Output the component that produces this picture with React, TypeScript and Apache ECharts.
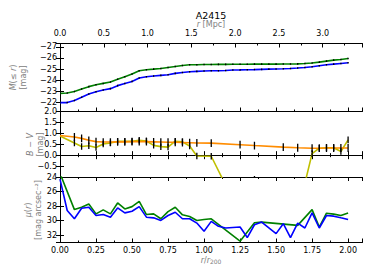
import React, { useEffect, useRef } from "react";
import * as echarts from "echarts";

// r / r200 sampling of the magnitude and surface-brightness profiles
const R = [0.0, 0.05, 0.1, 0.15, 0.2, 0.25, 0.3, 0.35, 0.4, 0.45, 0.5, 0.55, 0.6, 0.65, 0.7, 0.75, 0.8, 0.85, 0.9, 0.95, 1.0,
  1.05, 1.1, 1.15, 1.2, 1.25, 1.3, 1.35, 1.4, 1.45, 1.5, 1.55, 1.6, 1.65, 1.7, 1.75, 1.8, 1.85, 1.9, 1.95, 2.0];

// cumulative absolute magnitude M(<= r)
const M_GREEN = [-22.83, -22.86, -23.0, -23.22, -23.43, -23.6, -23.72, -23.84, -24.1, -24.32, -24.56, -24.86, -24.95, -25.0, -25.06, -25.15, -25.24, -25.33, -25.39, -25.4, -25.42,
  -25.42, -25.43, -25.43, -25.44, -25.44, -25.44, -25.45, -25.45, -25.45, -25.45, -25.46, -25.46, -25.47, -25.5, -25.55, -25.63, -25.72, -25.81, -25.87, -25.96];
const M_BLUE = [-22.0, -22.0, -22.18, -22.47, -22.77, -22.98, -23.13, -23.25, -23.52, -23.72, -23.9, -24.2, -24.32, -24.38, -24.44, -24.5, -24.62, -24.7, -24.77, -24.8, -24.83,
  -24.85, -24.86, -24.88, -24.92, -24.93, -24.95, -24.96, -24.98, -25.0, -25.01, -25.03, -25.06, -25.1, -25.15, -25.21, -25.3, -25.39, -25.45, -25.51, -25.57];
const M_ERR = 0.07;

// B - V colour profile
const R_BV = [0.0, 0.1, 0.15, 0.2, 0.25, 0.3, 0.35, 0.4, 0.45, 0.5, 0.55, 0.6, 0.65, 0.7, 0.75, 0.8, 0.85, 0.9, 0.95,
  1.05, 1.25, 1.35, 1.55, 1.65, 1.75, 1.8, 1.85, 1.9, 1.95, 2.0];
const BV_ORANGE = [0.9, 0.83, 0.77, 0.68, 0.62, 0.6, 0.6, 0.61, 0.61, 0.62, 0.62, 0.62, 0.61, 0.6, 0.59, 0.59, 0.58, 0.57, 0.56,
  0.55, 0.48, 0.44, 0.37, 0.34, 0.32, 0.32, 0.33, 0.33, 0.33, 0.33];
const BV_YELLOW = [0.88, 0.56, 0.4, 0.43, 0.35, 0.51, 0.56, 0.63, 0.63, 0.63, 0.68, 0.65, 0.45, 0.39, 0.37, 0.64, 0.61, 0.42, -0.04,
  -0.05, -2.7, -1.1, -2.2, -2.65, 0.07, 0.32, 0.34, 0.34, 0.17, 0.7];
const BV_ERR_ORANGE = 0.18;
const BV_ERR_YELLOW = 0.15;

// surface brightness mu(r)
const MU_GREEN = [23.5, null, 28.48, 28.16, 27.71, 29.07, 28.52, 29.07, 27.57, 28.39, 28.07, 27.35, 29.16, 29.07, 29.74, 28.75, 28.16, 29.2, 29.43, 29.97, 29.85,
  29.74, null, null, null, 32.82, null, 30.29, 30.2, null, null, null, null, 30.65, null, 28.48, 30.87, 28.97, 29.1, 29.29, 28.93];
const MU_BLUE = [24.3, 28.61, 29.74, 28.3, 28.16, 29.29, 29.16, 29.52, 28.25, 28.93, 28.7, 28.07, 29.52, 29.61, 29.97, 29.29, 28.84, 29.74, 29.74, 30.33, 31.46,
  30.1, 30.78, 31.01, null, 30.87, 32.32, 30.56, 30.2, null, 31.78, 30.42, 32.32, 30.33, 31.01, 28.93, 31.01, 29.29, 29.38, 29.61, 29.83];

const R200_MPC = 1.645;
const X_MAX = 2.1;

const FONT = "DejaVu Sans";
const GRAY = "#808080";

const errRender = (params: any, api: any) => {
  const x = api.value(0);
  const p1 = api.coord([x, api.value(1)]);
  const p2 = api.coord([x, api.value(2)]);
  return {
    type: "line",
    shape: { x1: p1[0], y1: p1[1], x2: p2[0], y2: p2[1] },
    style: { stroke: "#000", lineWidth: 1.3 },
  };
};

const pairs = (xs: number[], ys: (number | null)[]) => xs.map((x, i) => [x, ys[i] === null ? "-" : ys[i]]);
const errs = (xs: number[], ys: number[], e: number, skipZero: boolean) =>
  xs.map((x, i) => [x, ys[i] - e, ys[i] + e]).filter((d) => !(skipZero && d[0] === 0));

const minus = (s: string) => s.replace("-", "\u2212");

export default function App() {
  const ref = useRef<HTMLDivElement>(null);
  useEffect(() => {
    if (!ref.current) return;
    const chart = echarts.init(ref.current, undefined, { renderer: "svg" });
    const L = 60, W = 302.5;
    const grids = [
      { left: L, width: W, top: 43.5, height: 68 },
      { left: L, width: W, top: 111.5, height: 65.5 },
      { left: L, width: W, top: 177, height: 65.5 },
    ];
    const line = { show: true, lineStyle: { color: "#000", width: 1 } };
    const tick = { show: true, inside: true, length: 4, lineStyle: { color: "#000", width: 1 } };
    const minor = { show: true, splitNumber: 2, length: 2, lineStyle: { color: "#000", width: 1 } };
    const lbl = { fontFamily: FONT, fontSize: 8, color: "#000" };
    const rAxis = (gridIndex: number, position: string, labels: boolean) => ({
      type: "value", gridIndex, position, min: 0, max: X_MAX, interval: 0.25,
      axisLine: line, axisTick: tick, minorTick: minor, splitLine: { show: false },
      axisLabel: labels
        ? { show: true, ...lbl, margin: 4, showMaxLabel: false, formatter: (v: number) => v.toFixed(2) }
        : { show: false },
    });
    const yAx = (gridIndex: number, position: string, labels: boolean, extra: any, fmt: (v: number) => string) => ({
      type: "value", gridIndex, position, ...extra,
      axisLine: line, axisTick: tick, splitLine: { show: false },
      axisLabel: labels ? { show: true, ...lbl, margin: 3, formatter: fmt, ...(extra.labelOpts || {}) } : { show: false },
    });
    const topY = { inverse: true, min: -27.3, max: -21.2, minInterval: 1, maxInterval: 1, labelOpts: { showMinLabel: false, showMaxLabel: false } };
    const midY = { min: -1, max: 2, interval: 0.5, labelOpts: { showMinLabel: false, showMaxLabel: true } };
    const botY = { inverse: true, min: 24, max: 33, interval: 2, labelOpts: { showMinLabel: true, showMaxLabel: false } };
    const intFmt = (v: number) => (Number.isInteger(v) ? minus(String(v)) : "");

    const rich = (size: number) => ({
      i: { fontFamily: FONT, fontSize: size, fontStyle: "italic", fill: GRAY },
      n: { fontFamily: FONT, fontSize: size, fill: GRAY },
      s: { fontFamily: FONT, fontSize: 6, fill: GRAY, verticalAlign: "bottom" },
    });
    const vText = (x: number, y: number, text: string) => ({
      type: "text", x, y, rotation: Math.PI / 2,
      style: { text, align: "center", verticalAlign: "middle", fontFamily: FONT, fontSize: 8, fill: GRAY, rich: rich(8) },
    });

    chart.setOption({
      animation: false,
      backgroundColor: "#fff",
      grid: grids,
      xAxis: [
        rAxis(0, "bottom", false),
        {
          type: "value", gridIndex: 0, position: "top", min: 0, max: X_MAX * R200_MPC, interval: 0.5,
          axisLine: line, axisTick: tick, minorTick: { ...minor, splitNumber: 2 }, splitLine: { show: false },
          axisLabel: { show: true, ...lbl, margin: 6, showMaxLabel: false, formatter: (v: number) => v.toFixed(1) },
        },
        rAxis(1, "bottom", false),
        rAxis(1, "top", false),
        rAxis(2, "bottom", true),
        rAxis(2, "top", false),
      ],
      yAxis: [
        yAx(0, "left", true, topY, intFmt),
        yAx(0, "right", false, topY, intFmt),
        yAx(1, "left", true, midY, (v: number) => minus(v.toFixed(1))),
        yAx(1, "right", false, midY, (v: number) => v.toFixed(1)),
        yAx(2, "left", true, botY, (v: number) => String(v)),
        yAx(2, "right", false, botY, (v: number) => String(v)),
      ],
      series: [
        { type: "line", xAxisIndex: 0, yAxisIndex: 0, data: pairs(R, M_GREEN), symbol: "none", lineStyle: { color: "#008000", width: 1.6 }, z: 2 },
        { type: "line", xAxisIndex: 0, yAxisIndex: 0, data: pairs(R, M_BLUE), symbol: "none", lineStyle: { color: "#0000ff", width: 1.6 }, z: 2 },
        { type: "custom", xAxisIndex: 0, yAxisIndex: 0, data: errs(R, M_GREEN, M_ERR, false), renderItem: errRender, clip: true, encode: { x: 0, y: [1, 2] }, z: 3 },
        { type: "custom", xAxisIndex: 0, yAxisIndex: 0, data: errs(R, M_BLUE, M_ERR, false), renderItem: errRender, clip: true, encode: { x: 0, y: [1, 2] }, z: 3 },

        { type: "line", xAxisIndex: 2, yAxisIndex: 2, data: pairs(R_BV, BV_YELLOW), symbol: "none", lineStyle: { color: "#bfbf00", width: 1.6 }, z: 2 },
        { type: "line", xAxisIndex: 2, yAxisIndex: 2, data: pairs(R_BV, BV_ORANGE), symbol: "none", lineStyle: { color: "#ff8c00", width: 1.6 }, z: 2 },
        { type: "custom", xAxisIndex: 2, yAxisIndex: 2, data: errs(R_BV, BV_ORANGE, BV_ERR_ORANGE, true), renderItem: errRender, clip: true, encode: { x: 0, y: [1, 2] }, z: 3 },
        { type: "custom", xAxisIndex: 2, yAxisIndex: 2, data: errs(R_BV, BV_YELLOW, BV_ERR_YELLOW, true), renderItem: errRender, clip: true, encode: { x: 0, y: [1, 2] }, z: 3 },

        { type: "line", xAxisIndex: 4, yAxisIndex: 4, data: pairs(R, MU_GREEN), connectNulls: true, symbol: "none", lineStyle: { color: "#008000", width: 1.6 }, z: 2 },
        { type: "line", xAxisIndex: 4, yAxisIndex: 4, data: pairs(R, MU_BLUE), connectNulls: true, symbol: "none", lineStyle: { color: "#0000ff", width: 1.6 }, z: 2 },
      ],
      graphic: [
        { type: "text", x: 211, y: 15, style: { text: "A2415", align: "center", verticalAlign: "middle", fontFamily: FONT, fontSize: 9.5, fill: "#000" } },
        { type: "text", x: 211, y: 24, style: { text: "{i|r} {n|[Mpc]}", align: "center", verticalAlign: "middle", fontFamily: FONT, fontSize: 8, fill: GRAY, rich: rich(8) } },
        { type: "text", x: 211, y: 260, style: { text: "{i|r}{n|/}{i|r}{s|200}", align: "center", verticalAlign: "middle", fontFamily: FONT, fontSize: 8, fill: GRAY, rich: rich(8) } },
        vText(13, 77.5, "{i|M}{n|(≤ }{i|r}{n|)}"),
        vText(23, 77.5, "{n|[mag]}"),
        vText(30, 144.5, "{i|B}{n| − }{i|V}"),
        vText(40, 144.5, "{n|[mag]}"),
        vText(28, 210, "{i|μ}{n|(}{i|r}{n|)}"),
        vText(38, 210, "{n|[mag arcsec⁻²]}"),
      ],
    });
    return () => chart.dispose();
  }, []);
  return <div ref={ref} style={{ position: "fixed", left: 0, top: 0, width: 374, height: 280, background: "#fff" }} />;
}
